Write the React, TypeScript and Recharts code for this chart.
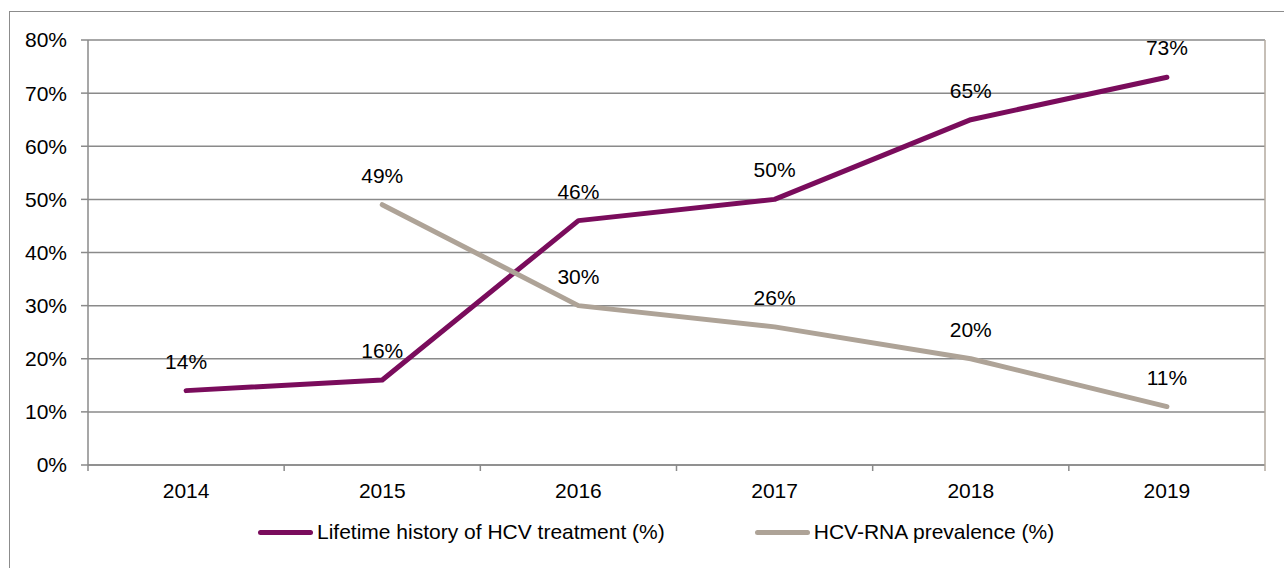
import { CartesianGrid, LabelList, Line, LineChart, XAxis, YAxis } from 'recharts'

const years = ['2014', '2015', '2016', '2017', '2018', '2019']
const treatmentHistory = [14, 16, 46, 50, 65, 73]
const rnaPrevalence = [null, 49, 30, 26, 20, 11]
const yTicks = [0, 10, 20, 30, 40, 50, 60, 70, 80]
const seriesNames = ['Lifetime history of HCV treatment (%)', 'HCV-RNA prevalence (%)']

const PURPLE = '#7a0c5c'
const TAUPE = '#aea397'
const GRID = '#8a8a8a'
const FRAME = '#b3aa9f'
const FONT = '"Liberation Sans", Arial, sans-serif'
const FS = 21

const W = 1284
const H = 568
const PLOT_LEFT = 88
const PLOT_RIGHT = 1265
const BAND = (PLOT_RIGHT - PLOT_LEFT) / years.length

const data = years.map((year, i) => ({
  year,
  treatment: treatmentHistory[i],
  prevalence: rnaPrevalence[i],
}))

const pct = (v: unknown) => (v == null ? '' : `${v}%`)

const XTick = (props: any) => {
  const { x, y, payload, index } = props
  const half = BAND / 2
  return (
    <g>
      <line x1={x - half} x2={x - half} y1={y} y2={y + 6} stroke={GRID} strokeWidth={1.5} />
      {index === years.length - 1 && (
        <line x1={x + half} x2={x + half} y1={y} y2={y + 6} stroke={FRAME} strokeWidth={1.5} />
      )}
      <text x={x} y={y + 33} textAnchor="middle" fontSize={FS} fill="#000" fontFamily={FONT}>
        {payload.value}
      </text>
    </g>
  )
}

const LegendItem = ({ color, label }: { color: string; label: string }) => (
  <div style={{ display: 'flex', alignItems: 'center' }}>
    <div style={{ width: 55, height: 5, borderRadius: 3, background: color, marginRight: 4 }} />
    <span>{label}</span>
  </div>
)

export default function App() {
  return (
    <div
      style={{
        position: 'absolute',
        left: 0,
        top: 0,
        width: W,
        height: H,
        overflow: 'hidden',
        background: '#fff',
        fontFamily: FONT,
      }}
    >
      <div
        style={{
          position: 'absolute',
          left: 9,
          top: 11,
          width: W + 20,
          height: H + 20,
          border: '1.5px solid #8c8c8c',
        }}
      />
      <LineChart
        width={W}
        height={H}
        data={data}
        margin={{ top: 40, right: W - PLOT_RIGHT - 1, bottom: 0, left: PLOT_LEFT - 60 }}
        style={{ position: 'absolute', left: 0, top: 0 }}
      >
        <CartesianGrid vertical={false} stroke={GRID} strokeWidth={1.5} />
        <XAxis
          dataKey="year"
          interval={0}
          padding={{ left: BAND / 2, right: BAND / 2 }}
          tickSize={0}
          tickMargin={0}
          tickLine={false}
          axisLine={{ stroke: GRID, strokeWidth: 1.5 }}
          tick={<XTick />}
          height={H - 465}
        />
        <XAxis
          xAxisId="top"
          orientation="top"
          dataKey="year"
          height={0}
          tick={false}
          tickLine={false}
          axisLine={{ stroke: FRAME, strokeWidth: 1.5 }}
        />
        <YAxis
          domain={[0, 80]}
          ticks={yTicks}
          interval={0}
          width={60}
          tickSize={7}
          tickMargin={14}
          tickFormatter={pct}
          tick={{ fill: '#000', fontSize: FS, fontFamily: FONT }}
          tickLine={{ stroke: GRID, strokeWidth: 1.5 }}
          axisLine={{ stroke: GRID, strokeWidth: 1.5 }}
        />
        <YAxis
          yAxisId="right"
          orientation="right"
          domain={[0, 80]}
          width={1}
          tick={false}
          tickLine={false}
          axisLine={{ stroke: FRAME, strokeWidth: 1.5 }}
        />
        <Line
          dataKey="treatment"
          name={seriesNames[0]}
          stroke={PURPLE}
          strokeWidth={5}
          strokeLinecap="round"
          strokeLinejoin="round"
          dot={false}
          isAnimationActive={false}
        >
          <LabelList
            dataKey="treatment"
            position="top"
            offset={22}
            formatter={pct}
            fill="#000"
            fontSize={FS}
            fontFamily={FONT}
          />
        </Line>
        <Line
          dataKey="prevalence"
          name={seriesNames[1]}
          stroke={TAUPE}
          strokeWidth={5}
          strokeLinecap="round"
          strokeLinejoin="round"
          dot={false}
          isAnimationActive={false}
        >
          <LabelList
            dataKey="prevalence"
            position="top"
            offset={22}
            formatter={pct}
            fill="#000"
            fontSize={FS}
            fontFamily={FONT}
          />
        </Line>
      </LineChart>
      <div
        style={{
          position: 'absolute',
          left: 258,
          top: 519,
          display: 'flex',
          gap: 90,
          fontSize: FS,
          color: '#000',
          lineHeight: '26px',
        }}
      >
        <LegendItem color={PURPLE} label={seriesNames[0]} />
        <LegendItem color={TAUPE} label={seriesNames[1]} />
      </div>
    </div>
  )
}
